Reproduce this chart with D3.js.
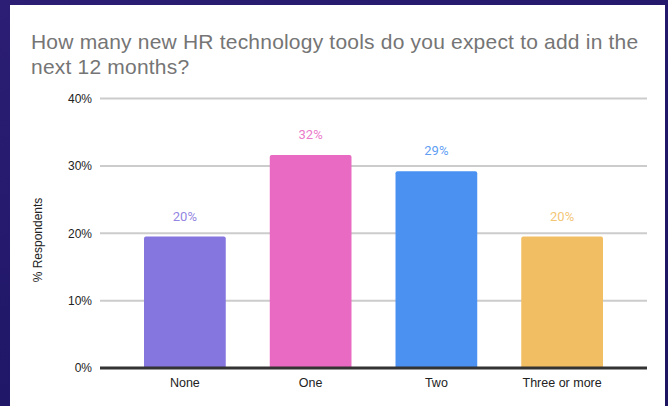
<!DOCTYPE html>
<html>
<head>
<meta charset="utf-8">
<script src="https://cdn.jsdelivr.net/npm/d3@7"></script>
<style>
  html, body { margin: 0; padding: 0; }
  body { width: 668px; height: 406px; overflow: hidden;
         background: linear-gradient(160deg, #2b1e74 0%, #22186a 50%, #1d1560 100%); }
</style>
</head>
<body>
<div id="chart"></div>
<script>
(function () {
    'use strict';

    var categories = ["None", "One", "Two", "Three or more"];
    var values = [0.195, 0.316, 0.292, 0.195];
    var valueLabels = ["20%", "32%", "29%", "20%"];
    var colors = ["#8575de", "#e86ac3", "#4a91f2", "#f2be63"];
    var yTicks = [0, 0.1, 0.2, 0.3, 0.4];

    var WIDTH = 668;
    var HEIGHT = 406;
    var FONT = "'Liberation Sans', Arial, sans-serif";

    var svg = d3.select("#chart")
        .append("svg")
        .attr("width", WIDTH)
        .attr("height", HEIGHT);

    // white card
    svg.append("rect")
        .attr("x", 10).attr("y", 5)
        .attr("width", 655).attr("height", 410)
        .attr("fill", "#ffffff");

    // title
    var title = svg.append("text")
        .attr("font-family", FONT)
        .attr("font-size", 21)
        .attr("letter-spacing", 0.2)
        .attr("fill", "#757575");
    title.append("tspan").attr("x", 31).attr("y", 48.5)
        .text("How many new HR technology tools do you expect to add in the");
    title.append("tspan").attr("x", 31).attr("y", 73.5)
        .text("next 12 months?");

    var x = d3.scaleBand()
        .domain(categories)
        .range([100, 647])
        .paddingInner(0.35)
        .paddingOuter(0.35);

    var y = d3.scaleLinear()
        .domain([0, 0.4])
        .range([368, 98.5]);

    // tick labels
    var yAxis = svg.append("g")
        .attr("transform", "translate(100,0)")
        .call(d3.axisLeft(y).tickValues(yTicks).tickFormat(d3.format(".0%")).tickSize(0).tickPadding(8));
    yAxis.select(".domain").remove();
    yAxis.selectAll("text")
        .attr("font-family", FONT)
        .attr("font-size", 12)
        .attr("fill", "#222");

    // gridlines
    svg.append("g").selectAll("line")
        .data(yTicks.filter(function (d) { return d > 0; }))
        .enter().append("line")
        .attr("x1", 100).attr("x2", 647)
        .attr("y1", function (d) { return y(d); })
        .attr("y2", function (d) { return y(d); })
        .attr("stroke", "#cccccc")
        .attr("stroke-width", 2);

    // bars
    svg.append("g").selectAll("path")
        .data(values)
        .enter().append("path")
        .attr("d", function (d, i) {
            var x0 = x(categories[i]), w = x.bandwidth(), top = y(d), bot = y(0), r = 2;
            return "M" + x0 + "," + bot + "V" + (top + r) + "Q" + x0 + "," + top + " " + (x0 + r) + "," + top +
                "H" + (x0 + w - r) + "Q" + (x0 + w) + "," + top + " " + (x0 + w) + "," + (top + r) + "V" + bot + "Z";
        })
        .attr("fill", function (d, i) { return colors[i]; });

    // value labels
    svg.append("g").selectAll("text")
        .data(values)
        .enter().append("text")
        .attr("x", function (d, i) { return x(categories[i]) + x.bandwidth() / 2; })
        .attr("y", function (d) { return y(d) - 16; })
        .attr("text-anchor", "middle")
        .attr("font-family", "Roboto, sans-serif")
        .attr("font-size", 13)
        .attr("fill", function (d, i) { return colors[i]; })
        .attr("fill-opacity", 0.9)
        .text(function (d, i) { return valueLabels[i]; });

    // baseline
    svg.append("line")
        .attr("x1", 100).attr("x2", 647)
        .attr("y1", y(0)).attr("y2", y(0))
        .attr("stroke", "#333333")
        .attr("stroke-width", 3);

    // category labels
    var xAxis = svg.append("g")
        .attr("transform", "translate(0," + y(0) + ")")
        .call(d3.axisBottom(x).tickSize(0).tickPadding(10));
    xAxis.select(".domain").remove();
    xAxis.selectAll("text")
        .attr("font-family", FONT)
        .attr("font-size", 12.5)
        .attr("fill", "#222");

    // y axis title
    svg.append("text")
        .attr("transform", "translate(42,240) rotate(-90)")
        .attr("text-anchor", "middle")
        .attr("font-family", FONT)
        .attr("font-size", 12)
        .attr("fill", "#222")
        .text("% Respondents");
})();
</script>
</body>
</html>
